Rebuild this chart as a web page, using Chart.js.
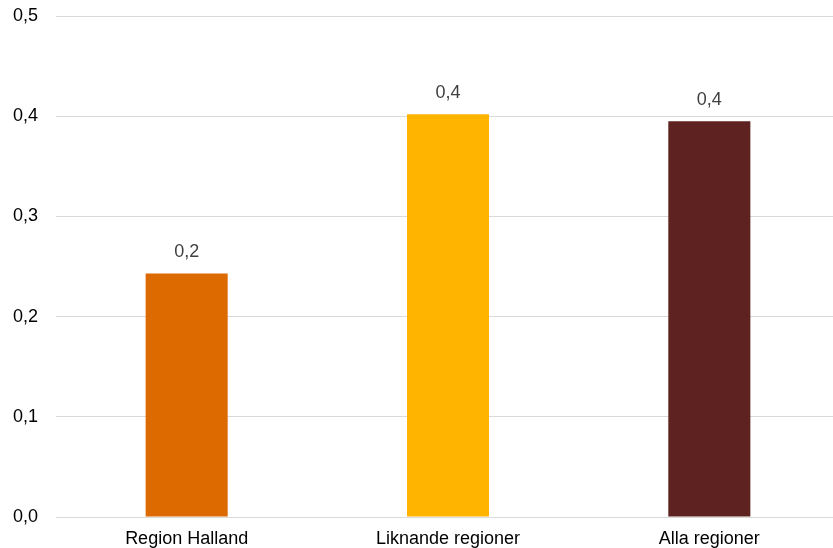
<!DOCTYPE html>
<html>
<head>
<meta charset="utf-8">
<script src="https://cdn.jsdelivr.net/npm/chart.js@4"></script>
<style>
    html, body { margin: 0; padding: 0; background: #fff; overflow: hidden; }
    #wrap { width: 840px; height: 548px; }
</style>
</head>
<body>
<div id="wrap"><canvas id="chart"></canvas></div>
<script>
// Chart data
const categories = ['Region Halland', 'Liknande regioner', 'Alla regioner'];
const values = [0.243, 0.402, 0.395];
const barColors = ['#DD6A00', '#FFB500', '#5E2320'];

const FONT = 'Arial, "Liberation Sans", sans-serif';

function formatComma(v) {
    return v.toFixed(1).replace('.', ',');
}

// Value labels above bars
const valueLabels = {
    id: 'valueLabels',
    afterDatasetsDraw(chart) {
        const ctx = chart.ctx;
        const meta = chart.getDatasetMeta(0);
        ctx.save();
        ctx.font = '18px ' + FONT;
        ctx.fillStyle = '#404040';
        ctx.textAlign = 'center';
        ctx.textBaseline = 'middle';
        meta.data.forEach((bar, i) => {
            ctx.fillText(formatComma(values[i]), bar.x, bar.y - 21);
        });
        ctx.restore();
    }
};

new Chart(document.getElementById('chart'), {
    type: 'bar',
    data: {
        labels: categories,
        datasets: [{
            data: values,
            backgroundColor: barColors,
            barPercentage: 0.314,
            categoryPercentage: 1
        }]
    },
    options: {
        responsive: true,
        maintainAspectRatio: false,
        animation: false,
        layout: { padding: { top: 16, right: 0, bottom: 0, left: 0 } },
        plugins: {
            legend: { display: false },
            tooltip: { enabled: false }
        },
        scales: {
            x: {
                grid: { display: false, drawTicks: false },
                border: { color: '#d9d9d9', width: 1 },
                ticks: {
                    color: '#000000',
                    font: { family: FONT, size: 18 },
                    padding: 11,
                    maxRotation: 0
                },
                afterFit(scale) { scale.height = 31; }
            },
            y: {
                min: 0,
                max: 0.5,
                grid: { color: '#d9d9d9', lineWidth: 1, drawTicks: false },
                border: { display: false },
                ticks: {
                    stepSize: 0.1,
                    color: '#000000',
                    font: { family: FONT, size: 18 },
                    padding: 18,
                    callback: v => formatComma(v)
                },
                afterFit(scale) {
                    scale.width = 56;
                    scale.paddingTop = 0;
                    scale.paddingBottom = 0;
                }
            }
        }
    },
    plugins: [valueLabels]
});
</script>
</body>
</html>
